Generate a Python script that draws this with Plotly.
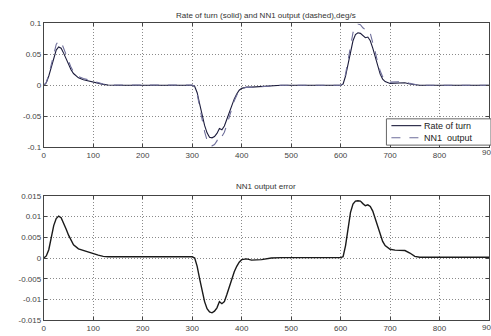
import plotly.graph_objects as go

# ---- data ----
t = [0, 5, 10, 15, 20, 25, 30, 35, 40, 45, 50, 55, 60, 70, 80, 90, 100, 110, 120, 130, 150, 200, 250, 300,
     305, 310, 315, 320, 325, 330, 335, 340, 345, 350, 355, 360, 365, 370, 375, 380, 385, 390, 395, 400,
     410, 420, 440, 460, 480, 600, 605, 610, 615, 620, 625, 630, 635, 640, 645, 650, 655, 660, 665, 670,
     675, 680, 685, 690, 700, 710, 720, 730, 740, 750, 760, 900]

rate_of_turn = [0, 0.004, 0.015, 0.03, 0.045, 0.057, 0.062, 0.06, 0.052, 0.042, 0.033, 0.025, 0.019, 0.012,
                0.009, 0.007, 0.005, 0.003, 0.0015, 0.0005, 0, 0, -0.0005, 0,
                -0.002, -0.012, -0.03, -0.048, -0.065, -0.077, -0.084, -0.085, -0.083, -0.078, -0.07, -0.072,
                -0.066, -0.055, -0.043, -0.032, -0.022, -0.014, -0.008, -0.005,
                -0.003, -0.003, -0.002, -0.001, 0, 0, 0.002, 0.015, 0.035, 0.055, 0.072, 0.082, 0.085, 0.084,
                0.08, 0.077, 0.078, 0.072, 0.06, 0.045,
                0.03, 0.018, 0.01, 0.006, 0.003, 0.003, 0.004, 0.004, 0.002, 0.0005, 0, 0]

nn1_output = [0, 0.0045, 0.017, 0.035, 0.053, 0.066, 0.072, 0.07, 0.06, 0.049, 0.038, 0.029, 0.022, 0.014,
              0.011, 0.0085, 0.006, 0.0037, 0.0019, 0.0008, 0.0003, 0.0003, -0.0002, 0.0003,
              -0.002, -0.014, -0.035, -0.056, -0.075, -0.089, -0.097, -0.098, -0.096, -0.09, -0.08, -0.083,
              -0.076, -0.064, -0.05, -0.037, -0.025, -0.016, -0.009, -0.0054,
              -0.0032, -0.0035, -0.0024, -0.001, 0, 0, 0.0023, 0.018, 0.042, 0.066, 0.085, 0.096, 0.099, 0.098,
              0.093, 0.09, 0.091, 0.084, 0.071, 0.054,
              0.037, 0.023, 0.014, 0.009, 0.005, 0.005, 0.006, 0.006, 0.003, 0.001, 0, 0]

output_error = [0, 0.0005, 0.002, 0.005, 0.0078, 0.0095, 0.0101, 0.0097, 0.0085, 0.007, 0.0055, 0.0042, 0.0032,
                0.0022, 0.0018, 0.0015, 0.0011, 0.0007, 0.0004, 0.0003, 0.0003, 0.0003, 0.0003, 0.0003,
                0.0, -0.002, -0.005, -0.008, -0.0105, -0.0122, -0.013, -0.0132, -0.0128, -0.012, -0.0105, -0.011,
                -0.0105, -0.0088, -0.0068, -0.005, -0.0033, -0.002, -0.001, -0.0004,
                -0.0002, -0.0005, -0.0004, 0, 0.0001, 0.0001, 0.0003, 0.003, 0.007, 0.011, 0.013, 0.0137, 0.0138,
                0.0137, 0.0131, 0.0126, 0.0128, 0.0124, 0.0113, 0.0095,
                0.0075, 0.0055, 0.004, 0.003, 0.0021, 0.0019, 0.0019, 0.0018, 0.0012, 0.0004, 0.0002, 0.0002]

x_ticks = [0, 100, 200, 300, 400, 500, 600, 700, 800, 900]
y1_ticks = [-0.1, -0.05, 0, 0.05, 0.1]
y1_labels = ["-0.1", "-0.05", "0", "0.05", "0.1"]
y2_ticks = [-0.015, -0.01, -0.005, 0, 0.005, 0.01, 0.015]
y2_labels = ["-0.015", "-0.01", "-0.005", "0", "0.005", "0.01", "0.015"]

series_names = ["Rate of turn", "NN1  output"]
title_top = "Rate of turn (solid) and NN1 output (dashed),deg/s"
title_bottom = "NN1 output error"

W, H = 491, 336
FONT = "Liberation Sans, Arial, sans-serif"
SOLID_C = "#1c1c3c"
DASH_C = "#6e6e9a"
GRID_DASH = "1px,2px"

fig = go.Figure()
fig.add_trace(go.Scatter(x=t, y=rate_of_turn, mode="lines", name=series_names[0], showlegend=False,
                         line=dict(color=SOLID_C, width=1.1), xaxis="x", yaxis="y"))
fig.add_trace(go.Scatter(x=t, y=nn1_output, mode="lines", name=series_names[1], showlegend=False,
                         line=dict(color=DASH_C, width=1.1, dash="dash"), xaxis="x", yaxis="y"))
fig.add_trace(go.Scatter(x=t, y=output_error, mode="lines", name="error", showlegend=False,
                         line=dict(color="#1a1a1a", width=1.4), xaxis="x2", yaxis="y2"))

x0, x1 = 42 / W, 489 / W
common_x = dict(range=[0, 900], tickvals=x_ticks, ticktext=[str(v) for v in x_ticks],
                showgrid=True, gridcolor="#8a8a8a", griddash=GRID_DASH, gridwidth=1,
                showline=True, linecolor="#444444", linewidth=1, mirror="ticks",
                ticks="inside", ticklen=3, tickcolor="#444444",
                zeroline=False, tickfont=dict(family=FONT, size=8, color="#444444"))
common_y = dict(showgrid=True, gridcolor="#8a8a8a", griddash=GRID_DASH, gridwidth=1,
                showline=True, linecolor="#444444", linewidth=1, mirror="ticks",
                ticks="inside", ticklen=3, tickcolor="#444444",
                zeroline=False, tickfont=dict(family=FONT, size=8, color="#444444"))

# manual legend box (paper pixels)
lx0, lx1, ly0, ly1 = 386, 491, 118, 145


def px(xp):
    return xp / W


def py(yp):
    return 1 - yp / H


shapes = [
    dict(type="rect", xref="paper", yref="paper", x0=px(lx0), x1=px(lx1), y0=py(ly1), y1=py(ly0),
         line=dict(color="#666666", width=1), fillcolor="white", layer="above"),
    dict(type="line", xref="paper", yref="paper", x0=px(391), x1=px(421), y0=py(125), y1=py(125),
         line=dict(color=SOLID_C, width=1.1), layer="above"),
    dict(type="line", xref="paper", yref="paper", x0=px(391), x1=px(421), y0=py(137.5), y1=py(137.5),
         line=dict(color=DASH_C, width=1.1, dash="dash"), layer="above"),
]

annotations = [
    dict(text=title_top, x=(x0 + x1) / 2, y=py(12), xref="paper", yref="paper",
         showarrow=False, xanchor="center", yanchor="middle",
         font=dict(family=FONT, size=8, color="#333333")),
    dict(text=title_bottom, x=(x0 + x1) / 2, y=py(188), xref="paper", yref="paper",
         showarrow=False, xanchor="center", yanchor="middle",
         font=dict(family=FONT, size=8, color="#333333")),
    dict(text=series_names[0], x=px(422), y=py(125), xref="paper", yref="paper",
         showarrow=False, xanchor="left", yanchor="middle",
         font=dict(family=FONT, size=9, color="#222222")),
    dict(text=series_names[1], x=px(422), y=py(137.5), xref="paper", yref="paper",
         showarrow=False, xanchor="left", yanchor="middle",
         font=dict(family=FONT, size=9, color="#222222")),
    # last x tick labels (cut at the page edge, as in the reference)
    dict(text="900", x=900, y=py(153), xref="x", yref="paper", showarrow=False,
         xanchor="center", yanchor="middle", font=dict(family=FONT, size=8, color="#444444")),
    dict(text="900", x=900, y=py(332), xref="x2", yref="paper", showarrow=False,
         xanchor="center", yanchor="middle", font=dict(family=FONT, size=8, color="#444444")),
]

fig.update_layout(
    width=W, height=H,
    margin=dict(l=0, r=0, t=0, b=0),
    paper_bgcolor="white", plot_bgcolor="white",
    xaxis=dict(domain=[x0, x1], anchor="y", **common_x),
    yaxis=dict(domain=[py(147), py(20)], anchor="x", range=[-0.1, 0.1],
               tickvals=y1_ticks, ticktext=y1_labels, **common_y),
    xaxis2=dict(domain=[x0, x1], anchor="y2", **common_x),
    yaxis2=dict(domain=[py(325), py(197)], anchor="x2", range=[-0.015, 0.015],
                tickvals=y2_ticks, ticktext=y2_labels, **common_y),
    showlegend=False,
    shapes=shapes,
    annotations=annotations,
)

fig.write_html("out.html")
